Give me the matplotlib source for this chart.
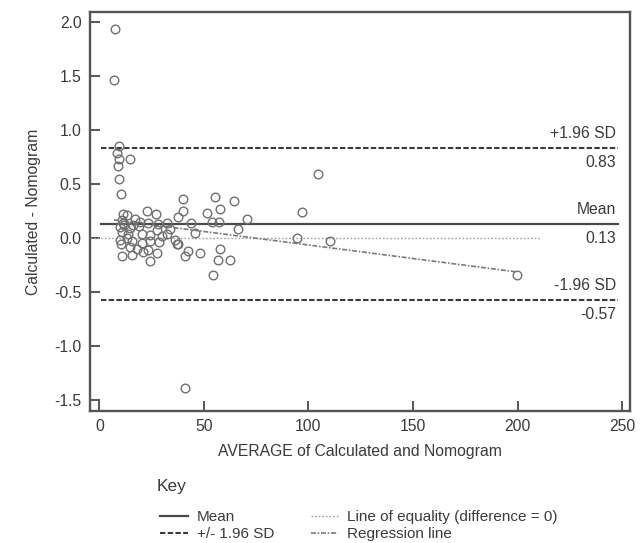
import matplotlib
matplotlib.use("Agg")
import matplotlib.pyplot as plt
import matplotlib.transforms as mtransforms

# ---------------- data ----------------
avg_values = [7.4, 6.9, 9.5, 8.4, 9.3, 8.9, 14.6, 9.5, 10.1,
              39.8, 55.4, 64.5, 39.8, 57.7, 51.3, 22.9, 26.9, 11.1, 13.0, 37.6,
              70.4, 57.2, 53.7, 32.1, 17.0, 28.1, 19.4, 11.4, 23.3, 45.7,
              66.1, 37.7, 42.5, 40.9, 48.1, 57.7, 56.5, 62.4, 54.2, 24.2,
              27.4, 21.0, 10.6, 15.7, 14.6, 10.3, 28.6, 24.2, 32.4, 14.6,
              10.6, 20.2, 27.4, 24.2, 13.0, 9.8, 15.4, 36.1, 20.2, 36.9,
              23.3, 13.8, 40.9, 104.5, 97.0, 94.3, 110.3, 199.6, 12.0, 16.0,
              19.0, 34.0, 30.0, 18.0, 11.0, 44.0, 10.0]
diff_values = [1.94, 1.46, 0.85, 0.79, 0.73, 0.67, 0.73, 0.55, 0.41,
               0.36, 0.38, 0.34, 0.25, 0.27, 0.23, 0.25, 0.22, 0.22, 0.21, 0.19,
               0.18, 0.15, 0.15, 0.14, 0.18, 0.13, 0.15, 0.14, 0.14, 0.05,
               0.08, -0.06, -0.12, -0.17, -0.14, -0.10, -0.20, -0.20, -0.34, -0.21,
               -0.14, -0.13, -0.17, -0.16, -0.08, -0.06, -0.04, -0.03, 0.04, 0.09,
               0.06, 0.04, 0.07, 0.03, 0.00, -0.02, -0.03, -0.02, -0.05, -0.06,
               -0.11, 0.04, -1.39, 0.59, 0.24, 0.00, -0.03, -0.34, 0.12, 0.12,
               0.11, 0.08, 0.02, -0.10, 0.17, 0.14, 0.10]

mean_diff = 0.13
upper_loa = 0.83
lower_loa = -0.57
ref_x_range = [1, 248]
equality_x_range = [-4.5, 211]
regression_x = [7, 200]
regression_y = [0.168, -0.315]

x_ticks = [0, 50, 100, 150, 200, 250]
y_ticks = [-1.5, -1.0, -0.5, 0.0, 0.5, 1.0, 1.5, 2.0]
x_label = "AVERAGE of Calculated and Nomogram"
y_label = "Calculated - Nomogram"
legend_labels = ["Mean", "+/- 1.96 SD", "Line of equality (difference = 0)", "Regression line"]

# ---------------- style ----------------
plt.rcParams['font.family'] = ['Liberation Sans', 'DejaVu Sans']
TXT = '#3a3a3a'
AX = '#555555'
FS = 11.3

fig = plt.figure(figsize=(6.4, 5.43), dpi=100)
ax = fig.add_axes([90/640, 1-411/543, 540/640, 399/543])

ax.set_xlim(-4.5, 253.8)
ax.set_ylim(-1.602, 2.093)

eq_line, = ax.plot(equality_x_range, [0, 0], color='#a0a0a0', lw=1.0,
                   linestyle=(0, (1.2, 1.4)))
reg_line, = ax.plot(regression_x, regression_y, color='#7a7a7a', lw=1.2,
                    linestyle=(0, (3, 1, 1, 1)))
mean_line, = ax.plot(ref_x_range, [mean_diff]*2, color='#4a4a4a', lw=1.6)
sd_line, = ax.plot(ref_x_range, [upper_loa]*2, color='#3a3a3a', lw=1.5,
                   linestyle=(0, (2.6, 1.1)))
ax.plot(ref_x_range, [lower_loa]*2, color='#3a3a3a', lw=1.5,
        linestyle=(0, (2.6, 1.1)))

ax.plot(avg_values, diff_values, linestyle='none', marker='o', markersize=6.2,
        markerfacecolor='none', markeredgecolor='#707070', markeredgewidth=1.0)

for s in ax.spines.values():
    s.set_color(AX)
    s.set_linewidth(1.7)

ax.set_xticks(x_ticks)
ax.set_yticks(y_ticks)
ax.set_xticklabels([str(t) for t in x_ticks])
ax.set_yticklabels([f"{t:.1f}" for t in y_ticks])
ax.tick_params(direction='in', length=7.5, width=1.4, color=AX,
               labelsize=FS, labelcolor=TXT, pad=6)
ax.tick_params(axis='x', pad=6)

ax.set_xlabel(x_label, fontsize=FS, color=TXT, labelpad=7)
ax.set_ylabel(y_label, fontsize=FS, color=TXT, labelpad=10)

# reference-line annotations
trans = mtransforms.blended_transform_factory(ax.transAxes, ax.transData)
for yv, top_txt in [(upper_loa, "+1.96 SD"), (mean_diff, "Mean"), (lower_loa, "-1.96 SD")]:
    ax.annotate(top_txt, xy=(0.974, yv), xycoords=trans, xytext=(0, 5),
                textcoords='offset points', ha='right', va='bottom',
                fontsize=FS, color=TXT)
    ax.annotate(f"{yv:.2f}", xy=(0.974, yv), xycoords=trans, xytext=(0, -5),
                textcoords='offset points', ha='right', va='top',
                fontsize=FS, color=TXT)

# key
fig.text(157/640, 1-487/543, "Key", fontsize=12.5, color=TXT, va='center', ha='left')
leg = fig.legend([mean_line, sd_line, eq_line, reg_line], legend_labels,
                 ncol=2, loc='upper left', bbox_to_anchor=(160/640, 1-510/543),
                 frameon=False, fontsize=11, handlelength=1.8, handletextpad=0.6,
                 columnspacing=2.4, labelspacing=0.2, borderpad=0, borderaxespad=0)
for t in leg.get_texts():
    t.set_color(TXT)

fig.savefig("out.png", dpi=100)
